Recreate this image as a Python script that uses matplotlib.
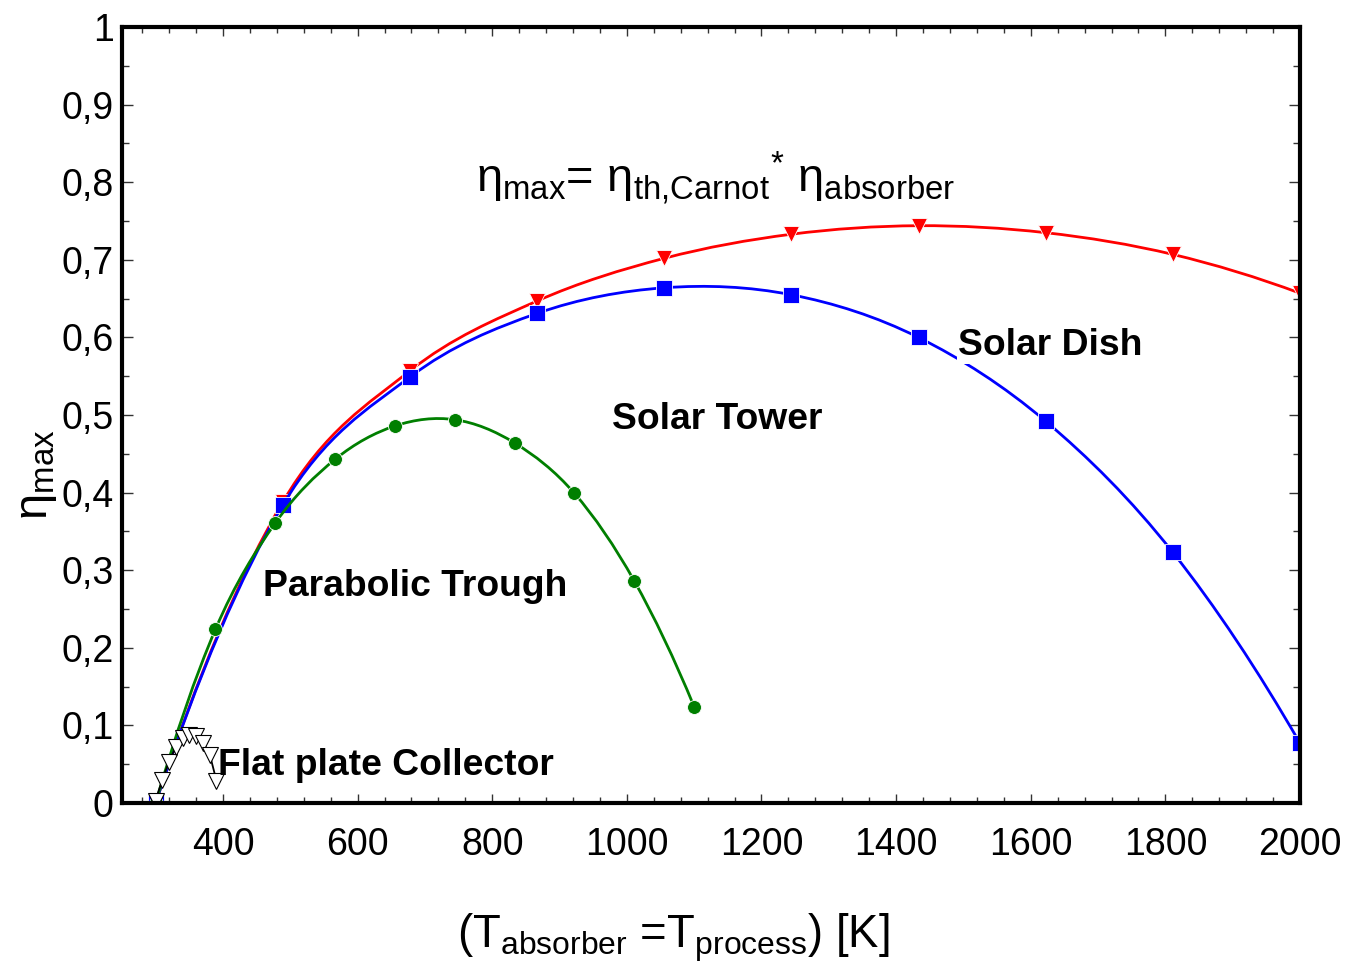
import numpy as np
import matplotlib
matplotlib.use("Agg")
import matplotlib.pyplot as plt
from matplotlib.path import Path
from matplotlib.patches import PathPatch
from matplotlib.ticker import MultipleLocator

plt.rcParams['font.family'] = ['Liberation Sans', 'DejaVu Sans']
plt.rcParams['mathtext.fontset'] = 'custom'
plt.rcParams['mathtext.rm'] = 'Liberation Sans'
plt.rcParams['mathtext.it'] = 'Liberation Sans'
plt.rcParams['mathtext.bf'] = 'Liberation Sans:bold'

# ---- data ----
dish_T = [300.0, 488.9, 677.8, 866.7, 1055.6, 1244.4, 1433.3, 1622.2, 1811.1, 2000.0]
dish_eta = [0.0, 0.388, 0.557, 0.647, 0.702, 0.733, 0.744, 0.735, 0.707, 0.657]

tower_T = [300.0, 488.9, 677.8, 866.7, 1055.6, 1244.4, 1433.3, 1622.2, 1811.1, 2000.0]
tower_eta = [0.0, 0.384, 0.549, 0.631, 0.664, 0.655, 0.600, 0.492, 0.323, 0.077]

trough_T = [300.0, 388.9, 477.8, 566.7, 655.6, 744.4, 833.3, 922.2, 1011.1, 1100.0]
trough_eta = [0.0, 0.224, 0.361, 0.443, 0.486, 0.494, 0.464, 0.399, 0.286, 0.124]

flat_T = [300, 310, 320, 330, 340, 350, 360, 370, 380, 390]
flat_eta = [0.003, 0.030, 0.053, 0.072, 0.084, 0.088, 0.087, 0.078, 0.062, 0.028]

x_ticks = [400, 600, 800, 1000, 1200, 1400, 1600, 1800, 2000]
y_ticks = [0.0, 0.1, 0.2, 0.3, 0.4, 0.5, 0.6, 0.7, 0.8, 0.9, 1.0]
y_ticklabels = ['0', '0,1', '0,2', '0,3', '0,4', '0,5', '0,6', '0,7', '0,8', '0,9', '1']


def smooth_curve(x, y):
    """Cubic Bezier path through the points (uniform spacing, Hermite tangents)."""
    x = np.asarray(x, float)
    y = np.asarray(y, float)
    n = len(x)
    m = np.empty(n)
    m[1:-1] = (y[2:] - y[:-2]) / 2.0
    m[0] = 2 * (y[1] - y[0]) - m[1]
    m[-1] = 2 * (y[-1] - y[-2]) - m[-2]
    verts = [(x[0], y[0])]
    codes = [Path.MOVETO]
    for i in range(n - 1):
        dx = x[i + 1] - x[i]
        verts += [(x[i] + dx / 3, y[i] + m[i] / 3),
                  (x[i + 1] - dx / 3, y[i + 1] - m[i + 1] / 3),
                  (x[i + 1], y[i + 1])]
        codes += [Path.CURVE4] * 3
    return Path(verts, codes)


fig = plt.figure(figsize=(13.48, 9.66), dpi=100)
ax = fig.add_axes([0.0905, 0.1687, 0.8739, 0.8033])

series = [
    (dish_T, dish_eta, '#ff0000', 'v', 12, 1),
    (tower_T, tower_eta, '#0000ff', 's', 11, 2),
    (trough_T, trough_eta, '#007f00', 'o', 10, 3),
]
for xs, ys, col, mk, ms, z in series:
    ax.add_patch(PathPatch(smooth_curve(xs, ys), facecolor='none', edgecolor=col,
                           lw=2.0, zorder=z))
    ax.plot(xs, ys, linestyle='none', marker=mk, markersize=ms, color=col,
            markeredgecolor='white', markeredgewidth=0.6, zorder=z + 0.5)

ax.add_patch(PathPatch(smooth_curve(flat_T, flat_eta), facecolor='none',
                       edgecolor='black', lw=1.3, zorder=5))
ax.plot(flat_T, flat_eta, linestyle='none', marker='v', markersize=11,
        markerfacecolor='white', markeredgecolor='black', markeredgewidth=0.8, zorder=6)

ax.set_xlim(250, 2000)
ax.set_ylim(0, 1)
ax.set_xticks(x_ticks)
ax.set_yticks(y_ticks)
ax.set_yticklabels(y_ticklabels)
ax.xaxis.set_minor_locator(MultipleLocator(40))
ax.yaxis.set_minor_locator(MultipleLocator(0.05))
ax.tick_params(which='both', direction='in', top=True, right=True,
               labelsize=27, width=1.0, color='#333333')
ax.tick_params(axis='x', which='major', length=6.5, pad=17)
ax.tick_params(axis='x', which='minor', length=4.5)
ax.tick_params(axis='y', which='major', length=8, pad=6)
ax.tick_params(axis='y', which='minor', length=5)
for s in ax.spines.values():
    s.set_linewidth(3)
    s.set_zorder(10)

bold = dict(fontsize=26.8, fontweight='bold', color='black')
ax.text(1492, 0.590, 'Solar Dish', ha='left', va='center', zorder=8,
        bbox=dict(facecolor='white', edgecolor='none', pad=1), **bold)
ax.text(978, 0.494, 'Solar Tower', ha='left', va='center', **bold)
ax.text(459, 0.279, 'Parabolic Trough', ha='left', va='center', **bold)
ax.text(393, 0.048, 'Flat plate Collector', ha='left', va='center', zorder=7, **bold)

ax.text(776, 0.787,
        r'$\mathrm{\eta}_{\mathrm{max}}$= $\mathrm{\eta}_{\mathrm{th{,}Carnot}}{}^{*}$ $\mathrm{\eta}_{\mathrm{absorber}}$',
        ha='left', va='baseline', fontsize=33.8)

fig.text(37 / 1348, 1 - 475 / 966, r'$\mathrm{\eta}_{\mathrm{max}}$', rotation=90,
         ha='center', va='center', fontsize=34)
fig.text(673 / 1348, 1 - 938 / 966,
         r'(T$_{\mathrm{absorber}}$ =T$_{\mathrm{process}}$) [K]',
         ha='center', va='center', fontsize=32.8)

fig.savefig('out.png', dpi=100)
